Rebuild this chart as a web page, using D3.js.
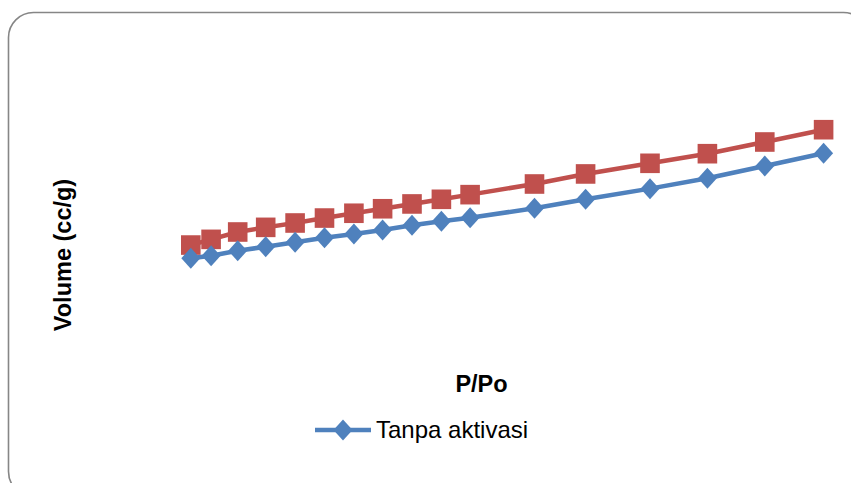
<!DOCTYPE html>
<html>
<head>
<meta charset="utf-8">
<script src="https://cdn.jsdelivr.net/npm/d3@7/dist/d3.min.js"></script>
<style>
  html, body { margin: 0; padding: 0; background: #fff; }
  svg { display: block; font-family: "Liberation Sans", Arial, sans-serif; }
</style>
</head>
<body>
<svg id="chart" width="851" height="483"></svg>
<script>
// Relative pressure (P/Po) at each measured point
const pressure = [0.044, 0.073, 0.111, 0.151, 0.193, 0.235, 0.277, 0.318, 0.360, 0.402, 0.443, 0.535, 0.608, 0.700, 0.782, 0.864, 0.948];
// Adsorbed volume (cc/g), sample without activation
const volumeTanpa = [54.5, 56.2, 59.5, 62.2, 65.1, 68.2, 70.7, 73.3, 76.5, 79.1, 81.5, 87.8, 93.8, 100.9, 107.8, 116.0, 124.5];
// Adsorbed volume (cc/g), activated sample
const volumeAktivasi = [63.3, 67.1, 72.0, 75.1, 78.0, 81.3, 84.5, 87.5, 90.7, 93.8, 96.9, 104.0, 110.7, 117.8, 124.2, 132.0, 140.2];
const seriesNames = ["Tanpa aktivasi", "Aktivasi"];
const xTitle = "P/Po";
const yTitle = "Volume (cc/g)";

const svg = d3.select("#chart");

// Outer chart frame with rounded corners
svg.append("rect")
  .attr("x", 8.5).attr("y", 12.5)
  .attr("width", 860).attr("height", 484)
  .attr("rx", 25).attr("ry", 25)
  .attr("fill", "#fff")
  .attr("stroke", "#868686")
  .attr("stroke-width", 1.6);

const x = d3.scaleLinear().domain([0, 1]).range([160, 860]);
const y = d3.scaleLinear().domain([0, 200]).range([340, 40]);

const series = [
  { name: seriesNames[0], values: volumeTanpa, color: "#4F81BD", marker: "diamond" },
  { name: seriesNames[1], values: volumeAktivasi, color: "#C0504D", marker: "square" }
];

const line = d3.line()
  .x(d => x(d[0]))
  .y(d => y(d[1]));

function markerPath(type) {
  if (type === "diamond") return "M0,-10.5L9.5,0L0,10.5L-9.5,0Z";
  return "M-9.8,-9.8H9.8V9.8H-9.8Z";
}

// Draw the activated series first so the untreated series sits on top
[series[1], series[0]].forEach(s => {
  const pts = pressure.map((p, i) => [p, s.values[i]]);
  const g = svg.append("g");
  g.append("path")
    .datum(pts)
    .attr("d", line)
    .attr("fill", "none")
    .attr("stroke", s.color)
    .attr("stroke-width", 4.5)
    .attr("stroke-linejoin", "round");
  g.selectAll("path.mk")
    .data(pts)
    .join("path")
    .attr("class", "mk")
    .attr("d", markerPath(s.marker))
    .attr("transform", d => `translate(${x(d[0])},${y(d[1])})`)
    .attr("fill", s.color);
});

// Axis titles
svg.append("text")
  .attr("x", 481.5).attr("y", 392)
  .attr("text-anchor", "middle")
  .attr("font-size", 23.5).attr("font-weight", "bold")
  .attr("fill", "#000")
  .text(xTitle);

svg.append("text")
  .attr("transform", "translate(71,255) rotate(-90)")
  .attr("text-anchor", "middle")
  .attr("font-size", 23.5).attr("font-weight", "bold")
  .attr("fill", "#000")
  .text(yTitle);

// Legend
const lg = svg.append("g").attr("transform", "translate(315,430)");
lg.append("line")
  .attr("x1", 0).attr("x2", 56).attr("y1", 0).attr("y2", 0)
  .attr("stroke", series[0].color).attr("stroke-width", 4.5);
lg.append("path")
  .attr("d", markerPath("diamond"))
  .attr("transform", "translate(28,0)")
  .attr("fill", series[0].color);
lg.append("text")
  .attr("x", 61).attr("y", 8)
  .attr("font-size", 24)
  .attr("fill", "#000")
  .text(series[0].name);
</script>
</body>
</html>
